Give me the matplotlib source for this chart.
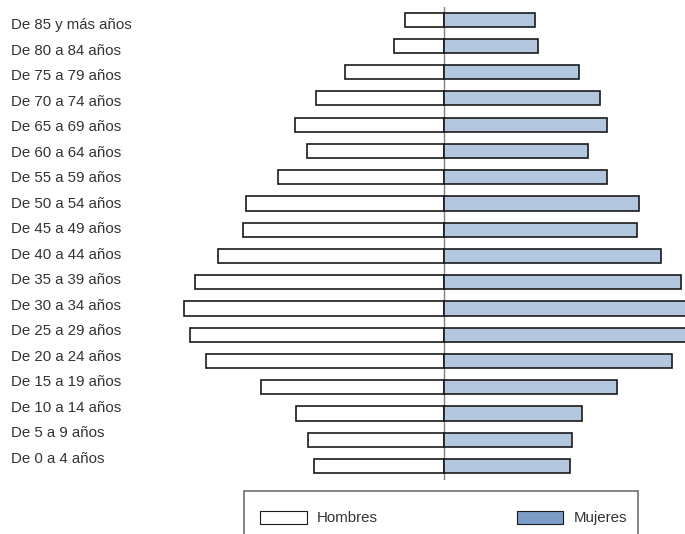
import numpy as np
import matplotlib
matplotlib.use('Agg')
import matplotlib.pyplot as plt
from matplotlib.patches import Patch, Rectangle

plt.rcParams.update({
    'font.family': ['Liberation Sans', 'DejaVu Sans'],
    'font.size': 10.8,
})

# age groups, bottom to top
GROUPS = ['De 0 a 4 años', 'De 5 a 9 años', 'De 10 a 14 años', 'De 15 a 19 años',
          'De 20 a 24 años', 'De 25 a 29 años', 'De 30 a 34 años', 'De 35 a 39 años',
          'De 40 a 44 años', 'De 45 a 49 años', 'De 50 a 54 años', 'De 55 a 59 años',
          'De 60 a 64 años', 'De 65 a 69 años', 'De 70 a 74 años', 'De 75 a 79 años',
          'De 80 a 84 años', 'De 85 y más años']
HOMBRES = [130, 136, 148, 183, 238, 254, 260, 249, 226, 201, 198, 166,
           137, 149, 128, 99, 50, 39]
MUJERES = [126, 128, 138, 173, 228, 246, 247, 237, 217, 193, 195, 163,
           144, 163, 156, 135, 94, 91]

MEN_COLOR = 'white'
WOMEN_COLOR = '#b2c6de'
LEGEND_WOMEN = '#7b9dc8'
EDGE = '#1a1a1a'
TEXT = '#333333'

W, H = 685, 534
fig = plt.figure(figsize=(W / 100, H / 100), dpi=100)

# main pyramid axes
ax = fig.add_axes([150 / W, 1 - 480 / H, 535 / W, 473 / H])
y = np.arange(len(GROUPS))
ax.axvline(0, color='#808080', lw=1.0, zorder=1)
ax.barh(y, -np.array(HOMBRES), height=0.54, color=MEN_COLOR,
        edgecolor=EDGE, linewidth=1.2, zorder=2)
ax.barh(y, MUJERES, height=0.54, color=WOMEN_COLOR,
        edgecolor=EDGE, linewidth=1.2, zorder=2)
ax.set_xlim(-294, 241)
ax.set_ylim(-0.53, len(GROUPS) - 1 + 0.48)
ax.axis('off')

# labels sit on their own slightly different spacing
lab = fig.add_axes([11 / W, 1 - 471.5 / H, 140 / W, 459 / H])
lab.set_xlim(0, 1)
lab.set_ylim(-0.5, len(GROUPS) - 0.5)
for i, g in enumerate(GROUPS):
    lab.text(0, i, g, ha='left', va='center', color=TEXT)
lab.axis('off')

# legend box at the bottom (cut off by the figure edge)
fig.add_artist(Rectangle((244 / W, -0.05), 394 / W, 0.05 + 1 - 491 / H,
                         transform=fig.transFigure, facecolor='none',
                         edgecolor='#707070', linewidth=1.2))
handles = [Patch(facecolor=MEN_COLOR, edgecolor=EDGE, linewidth=0.8),
           Patch(facecolor=LEGEND_WOMEN, edgecolor=EDGE, linewidth=0.8)]
leg = fig.legend(handles, ['Hombres', 'Mujeres'], ncol=2, mode='expand',
                 loc='center',
                 bbox_to_anchor=(260 / W, 1 - 528 / H, 367 / W, 20 / H),
                 borderaxespad=0, borderpad=0, handlelength=3.1,
                 handleheight=1.0, handletextpad=0.7, frameon=False,
                 labelcolor=TEXT)

fig.savefig('out.png', dpi=100, facecolor='white')
